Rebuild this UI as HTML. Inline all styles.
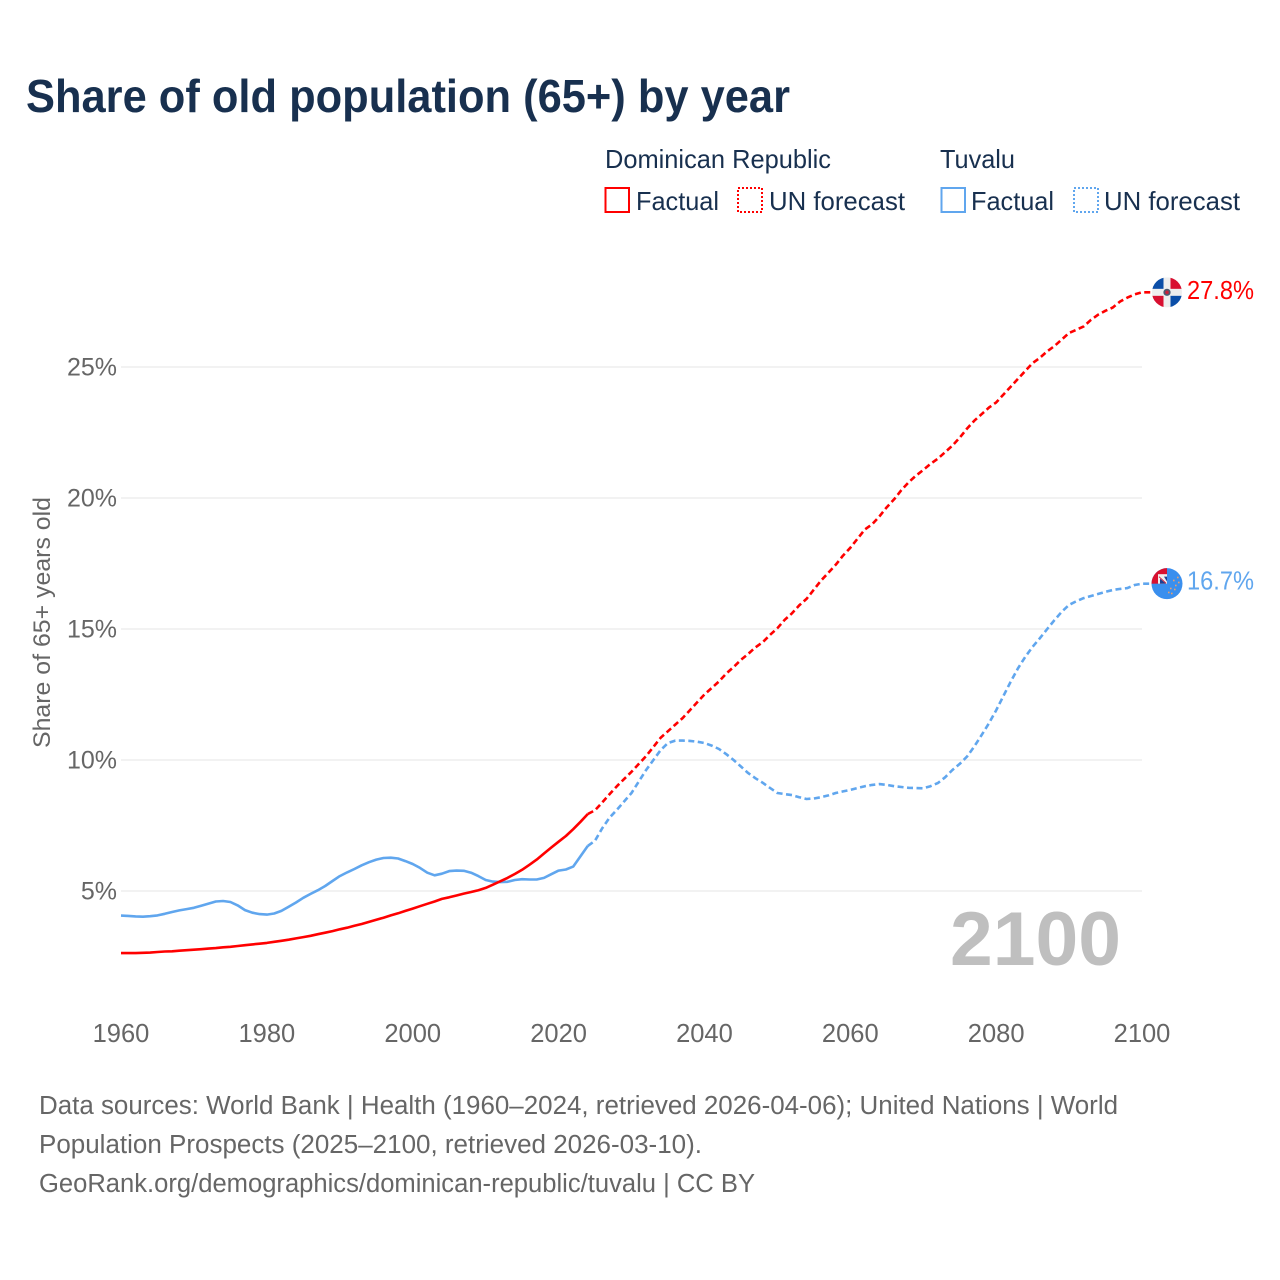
<!DOCTYPE html>
<html lang="en">
<head>
<meta charset="utf-8">
<title>Share of old population (65+) by year</title>
<style>
html,body{margin:0;padding:0;background:#fff;width:1280px;height:1280px;overflow:hidden}
svg{display:block}
text{font-family:"Liberation Sans",sans-serif}
</style>
</head>
<body>
<svg id="chart" xmlns="http://www.w3.org/2000/svg" width="1280" height="1280" viewBox="0 0 1280 1280">
  <defs>
    <clipPath id="flag-clip-do"><circle cx="0" cy="0" r="15"/></clipPath>
    <clipPath id="flag-clip-tv"><circle cx="0" cy="0" r="15.5"/></clipPath>
  </defs>
  <rect x="0" y="0" width="1280" height="1280" fill="#fff"/>
  <text x="26" y="112" font-size="46" font-weight="700" fill="#18304f" textLength="764" lengthAdjust="spacingAndGlyphs">Share of old population (65+) by year</text>

  <g font-size="26" fill="#18304f">
    <text x="605" y="168" textLength="226" lengthAdjust="spacingAndGlyphs">Dominican Republic</text>
    <text x="940" y="168" textLength="75" lengthAdjust="spacingAndGlyphs">Tuvalu</text>
    <rect x="605.5" y="188" width="23.5" height="24" fill="none" stroke="#ff0000" stroke-width="2"/>
    <text x="636" y="210" textLength="83" lengthAdjust="spacingAndGlyphs">Factual</text>
    <rect x="738" y="188" width="24" height="24" fill="none" stroke="#ff0000" stroke-width="2" stroke-dasharray="2 2"/>
    <text x="769" y="210" textLength="136" lengthAdjust="spacingAndGlyphs">UN forecast</text>
    <rect x="941.5" y="188" width="23.5" height="24" fill="none" stroke="#60a6ee" stroke-width="2"/>
    <text x="971" y="210" textLength="83" lengthAdjust="spacingAndGlyphs">Factual</text>
    <rect x="1074" y="188" width="24" height="24" fill="none" stroke="#60a6ee" stroke-width="2" stroke-dasharray="2 2"/>
    <text x="1104" y="210" textLength="136" lengthAdjust="spacingAndGlyphs">UN forecast</text>
  </g>

  <g id="grid"></g>
  <g id="yticks"></g>
  <g id="xticks"></g>
  <text transform="translate(50,748) rotate(-90)" font-size="24.5" fill="#666" textLength="251" lengthAdjust="spacingAndGlyphs">Share of 65+ years old</text>
  <text x="950" y="965" font-size="76" font-weight="700" fill="#bfbfbf" textLength="171" lengthAdjust="spacingAndGlyphs">2100</text>
  <g id="series"></g>

  <g id="flag-do">
    <g clip-path="url(#flag-clip-do)">
      <rect x="-15" y="-15" width="30" height="30" fill="#eeeeee"/>
      <rect x="-15" y="-15" width="11.5" height="11.5" fill="#0b4ea8"/>
      <rect x="3.5" y="-15" width="11.5" height="11.5" fill="#d80f30"/>
      <rect x="-15" y="3.5" width="11.5" height="11.5" fill="#d80f30"/>
      <rect x="3.5" y="3.5" width="11.5" height="11.5" fill="#0b4ea8"/>
      <circle cx="0" cy="0" r="3.6" fill="#4a5a70"/>
      <circle cx="0" cy="0" r="1.8" fill="#c8203a"/>
    </g>
  </g>
  <g id="flag-tv">
    <g clip-path="url(#flag-clip-tv)">
      <rect x="-16" y="-16" width="32" height="32" fill="#3a8fee"/>
      <rect x="-16" y="-16" width="16" height="16" fill="#d8102f"/>
      <rect x="-9" y="-9.5" width="9" height="9.5" fill="#eeeeee"/>
      <path d="M-7 -5 L-1 0 L-7 0 Z" fill="#1f3f8f"/>
      <path d="M-3 -7 L0 -7 L0 -2 Z" fill="#1f3f8f"/>
      <path d="M-8 -7 L-1 -0.5" stroke="#d8102f" stroke-width="0.8"/>
      <g fill="#e8a070">
        <rect x="10" y="-7" width="1.6" height="1.6"/>
        <rect x="6" y="-4" width="1.6" height="1.6"/>
        <rect x="11" y="-2" width="1.6" height="1.6"/>
        <rect x="8" y="1" width="1.6" height="1.6"/>
        <rect x="3" y="4" width="1.6" height="1.6"/>
        <rect x="7" y="5" width="1.6" height="1.6"/>
        <rect x="1" y="8" width="1.6" height="1.6"/>
        <rect x="4" y="9" width="1.6" height="1.6"/>
      </g>
    </g>
  </g>
  <g id="end-labels"></g>

  <g font-size="25.5" fill="#666">
    <text x="39" y="1114" textLength="1079" lengthAdjust="spacingAndGlyphs">Data sources: World Bank | Health (1960–2024, retrieved 2026-04-06); United Nations | World</text>
    <text x="39" y="1153" textLength="663" lengthAdjust="spacingAndGlyphs">Population Prospects (2025–2100, retrieved 2026-03-10).</text>
    <text x="39" y="1192" textLength="716" lengthAdjust="spacingAndGlyphs">GeoRank.org/demographics/dominican-republic/tuvalu | CC BY</text>
  </g>
</svg>
<script>
const factualStartYear = 1960;
const forecastStartYear = 2025;
const xTickYears = [1960, 1980, 2000, 2020, 2040, 2060, 2080, 2100];
const yTickValues = [5, 10, 15, 20, 25];
const yTickLabels = ['5%', '10%', '15%', '20%', '25%'];
const endLabels = ['27.8%', '16.7%'];

const drFactual = [2.63,2.63,2.63,2.64,2.65,2.67,2.69,2.70,2.72,2.74,2.76,2.78,2.80,2.82,2.85,2.87,2.90,2.93,2.96,2.99,
  3.02,3.06,3.10,3.14,3.19,3.24,3.29,3.35,3.41,3.47,3.54,3.60,3.67,3.74,3.82,3.90,3.98,4.07,4.15,4.24,
  4.33,4.42,4.51,4.60,4.70,4.76,4.83,4.90,4.96,5.03,5.12,5.24,5.37,5.50,5.65,5.81,6.00,6.20,6.43,6.66,
  6.88,7.10,7.36,7.64,7.94];
const drForecast = [8.08,8.38,8.70,9.00,9.28,9.55,9.85,10.15,10.50,10.85,11.10,11.35,11.60,11.90,12.20,12.50,12.75,13.00,13.30,13.55,
  13.82,14.05,14.30,14.50,14.78,15.03,15.35,15.60,15.90,16.15,16.50,16.85,17.15,17.45,17.80,18.10,18.45,18.80,19.00,19.30,
  19.65,19.95,20.30,20.60,20.85,21.07,21.30,21.50,21.75,22.00,22.30,22.65,22.95,23.20,23.45,23.65,23.95,24.25,24.55,24.85,
  25.15,25.35,25.60,25.80,26.05,26.30,26.42,26.55,26.80,27.00,27.15,27.27,27.50,27.65,27.77,27.85];
const tvFactual = [4.06,4.05,4.03,4.02,4.04,4.07,4.13,4.20,4.26,4.31,4.36,4.44,4.52,4.60,4.62,4.58,4.45,4.27,4.17,4.12,
  4.10,4.14,4.24,4.40,4.56,4.74,4.89,5.03,5.19,5.38,5.57,5.71,5.84,5.98,6.10,6.20,6.26,6.27,6.24,6.14,
  6.03,5.88,5.70,5.60,5.66,5.76,5.78,5.77,5.70,5.57,5.42,5.36,5.34,5.35,5.42,5.45,5.44,5.44,5.50,5.64,
  5.78,5.82,5.93,6.33,6.72];
const tvForecast = [6.92,7.40,7.80,8.10,8.42,8.74,9.18,9.62,10.00,10.38,10.65,10.74,10.74,10.73,10.70,10.65,10.55,10.42,10.22,10.00,
  9.75,9.50,9.30,9.13,8.93,8.74,8.70,8.66,8.58,8.51,8.53,8.58,8.65,8.74,8.80,8.86,8.93,9.00,9.05,9.08,
  9.05,9.00,8.97,8.94,8.93,8.92,9.00,9.12,9.34,9.62,9.85,10.13,10.52,10.95,11.40,11.90,12.45,12.99,13.50,13.94,
  14.32,14.65,15.00,15.34,15.66,15.92,16.06,16.18,16.26,16.34,16.42,16.49,16.53,16.56,16.68,16.73];

const xScale = year => 121 + (year - 1960) * 7.293;
const yScale = value => 891 - (value - 5) * 26.2;
const NS = 'http://www.w3.org/2000/svg';
const flagX = 1167;

const gridGroup = document.getElementById('grid');
const yGroup = document.getElementById('yticks');
yTickValues.forEach((value, i) => {
  const line = document.createElementNS(NS, 'line');
  
  
  line.setAttribute('x1', xScale(1960));
  line.setAttribute('x2', xScale(2100));
  line.setAttribute('y1', yScale(value));
  line.setAttribute('y2', yScale(value));
  line.setAttribute('stroke', '#eeeeee');
  line.setAttribute('stroke-width', '1.6');
  gridGroup.appendChild(line);
  const label = document.createElementNS(NS, 'text');
  
  
  label.setAttribute('x', 117);
  label.setAttribute('y', yScale(value) + 8.5);
  label.setAttribute('text-anchor', 'end');
  label.setAttribute('font-size', '25');
  label.setAttribute('fill', '#666');
  label.textContent = yTickLabels[i];
  yGroup.appendChild(label);
});

const xGroup = document.getElementById('xticks');
xTickYears.forEach(year => {
  const label = document.createElementNS(NS, 'text');
  
  
  label.setAttribute('x', xScale(year));
  label.setAttribute('y', 1042);
  label.setAttribute('text-anchor', 'middle');
  label.setAttribute('font-size', '25.5');
  label.setAttribute('fill', '#666');
  label.textContent = String(year);
  xGroup.appendChild(label);
});

const seriesGroup = document.getElementById('series');
function drawSeries(values, startYear, color, dashed, name, prefix, extendToFlag) {
  let pts = prefix.slice();
  values.forEach((value, i) => {
    pts.push(xScale(startYear + i).toFixed(1) + ',' + yScale(value).toFixed(1));
  });
  if (extendToFlag) {
    pts.push(flagX + ',' + yScale(values[values.length - 1]).toFixed(1));
  }
  const line = document.createElementNS(NS, 'polyline');
  
  
  line.setAttribute('points', pts.join(' '));
  line.setAttribute('fill', 'none');
  line.setAttribute('stroke', color);
  line.setAttribute('stroke-width', '2.6');
  line.setAttribute('stroke-linejoin', 'round');
  if (dashed) {
    line.setAttribute('stroke-dasharray', '6 3.5');
  }
  seriesGroup.appendChild(line);
}
const lastPoint = (values, startYear) => {
  const i = values.length - 1;
  return xScale(startYear + i).toFixed(1) + ',' + yScale(values[i]).toFixed(1);
};
drawSeries(tvFactual, factualStartYear, '#60a6ee', false, 'line-tuvalu-factual', [], false);
drawSeries(tvForecast, forecastStartYear, '#60a6ee', true, 'line-tuvalu-forecast', [lastPoint(tvFactual, factualStartYear)], true);
drawSeries(drFactual, factualStartYear, '#ff0000', false, 'line-dominican-republic-factual', [], false);
drawSeries(drForecast, forecastStartYear, '#ff0000', true, 'line-dominican-republic-forecast', [lastPoint(drFactual, factualStartYear)], true);

const drEndY = yScale(drForecast[drForecast.length - 1]);
const tvEndY = yScale(tvForecast[tvForecast.length - 1]);
document.getElementById('flag-do').setAttribute('transform', 'translate(' + flagX + ',' + drEndY + ')');
document.getElementById('flag-tv').setAttribute('transform', 'translate(' + flagX + ',' + tvEndY + ')');

const labelGroup = document.getElementById('end-labels');
const endLabelDr = document.createElementNS(NS, 'text');


endLabelDr.setAttribute('x', 1187);
endLabelDr.setAttribute('y', drEndY + 6.5);
endLabelDr.setAttribute('font-size', '25.5');
endLabelDr.setAttribute('fill', '#ff0000');
endLabelDr.setAttribute('textLength', '67');
endLabelDr.setAttribute('lengthAdjust', 'spacingAndGlyphs');
endLabelDr.textContent = endLabels[0];
labelGroup.appendChild(endLabelDr);
const endLabelTv = document.createElementNS(NS, 'text');


endLabelTv.setAttribute('x', 1187);
endLabelTv.setAttribute('y', tvEndY + 6);
endLabelTv.setAttribute('font-size', '25.5');
endLabelTv.setAttribute('fill', '#60a6ee');
endLabelTv.setAttribute('textLength', '67');
endLabelTv.setAttribute('lengthAdjust', 'spacingAndGlyphs');
endLabelTv.textContent = endLabels[1];
labelGroup.appendChild(endLabelTv);
</script>
</body>
</html>
